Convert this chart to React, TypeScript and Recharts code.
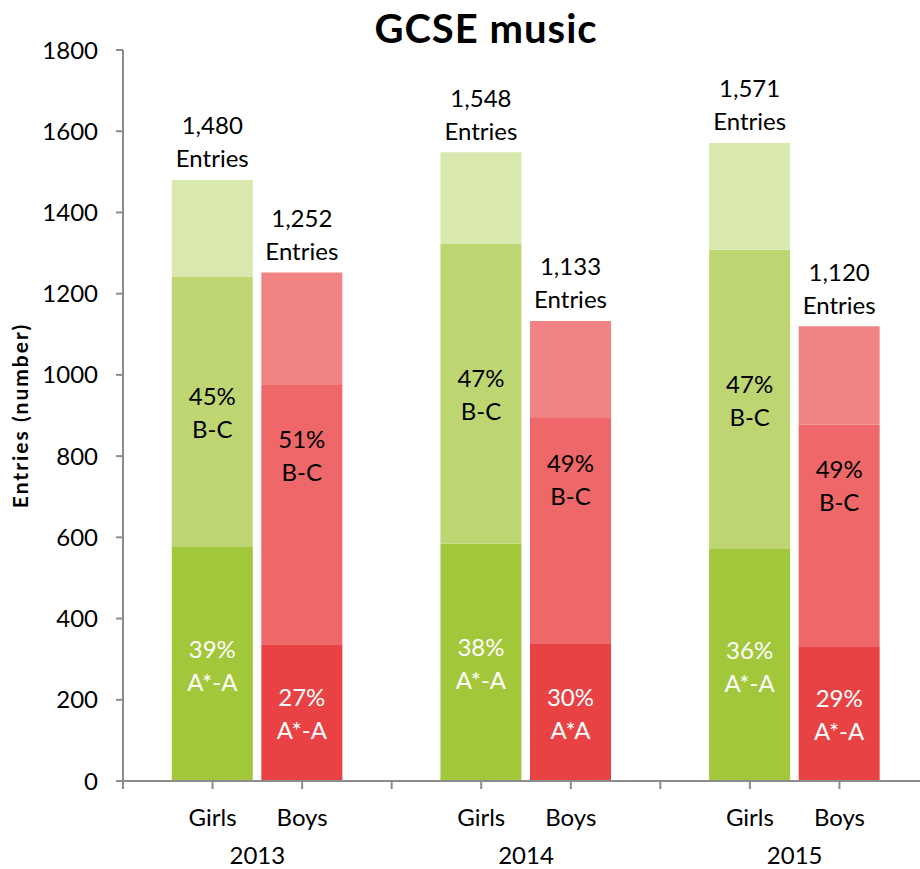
import { BarChart, Bar, XAxis, YAxis, Cell, LabelList } from "recharts";

// one entry per bar: 2013 girls, 2013 boys, 2014 girls, ...
const years = ["2013", "2014", "2015"];
const genders = ["Girls", "Boys"];
const aStarA = [576, 337, 584, 339, 571, 330];
const gradeBC = [666, 638, 739, 555, 737, 548];
const otherGrades = [238, 277, 225, 239, 263, 242];
const totalLabels = ["1,480", "1,252", "1,548", "1,133", "1,571", "1,120"];
const aStarPct = ["39%", "27%", "38%", "30%", "36%", "29%"];
const aStarNames = ["A*-A", "A*-A", "A*-A", "A*A", "A*-A", "A*-A"];
const bcPct = ["45%", "51%", "47%", "49%", "47%", "49%"];
const yTicks = [0, 200, 400, 600, 800, 1000, 1200, 1400, 1600, 1800];

const greens = ["#A3C73B", "#BED672", "#D9E8AF"];
const reds = ["#E84244", "#EE6769", "#F18482"];
const axisGrey = "#8C8C8C";
const FONT = "Lato, 'Open Sans', sans-serif";
const FS = 24;

// x slot: each year takes 3 units, girls at +1, boys at +2
const rows = aStarA.map((a, i) => ({
  x: Math.floor(i / 2) * 3 + 1 + (i % 2),
  aStar: a,
  bc: gradeBC[i],
  rest: otherGrades[i],
}));

const slotTicks = Array.from({ length: 10 }, (_, i) => i);
const yearTicks = years.map((_, i) => i * 3 + 1.5);

const box = (p: any) => p.viewBox ?? p;

const TwoLines = ({ cx, cy, top, bottom, fill }: any) => (
  <g>
    <text x={cx} y={cy - 16} textAnchor="middle" dominantBaseline="central" fill={fill} fontSize={FS}>
      {top}
    </text>
    <text x={cx} y={cy + 17} textAnchor="middle" dominantBaseline="central" fill={fill} fontSize={FS}>
      {bottom}
    </text>
  </g>
);

const AStarLabel = (p: any) => {
  const { x, y, width, height } = box(p);
  return (
    <TwoLines
      cx={x + width / 2}
      cy={y + height / 2}
      top={aStarPct[p.index]}
      bottom={aStarNames[p.index]}
      fill="#fff"
    />
  );
};

const BCLabel = (p: any) => {
  const { x, y, width, height } = box(p);
  // boys labels sit in the upper part of the segment
  const cy = y + height * (p.index % 2 === 0 ? 0.5 : 0.27);
  return <TwoLines cx={x + width / 2} cy={cy} top={bcPct[p.index]} bottom="B-C" fill="#000" />;
};

const TotalLabel = (p: any) => {
  const { x, y, width } = box(p);
  return <TwoLines cx={x + width / 2} cy={y - 39} top={totalLabels[p.index]} bottom="Entries" fill="#000" />;
};

const GenderTick = (p: any) => {
  const v = p.payload.value;
  if (v % 3 === 0) return <g />;
  return (
    <text x={p.x} y={p.y} dy={27} textAnchor="middle" dominantBaseline="central" fill="#000" fontSize={FS}>
      {genders[(v % 3) - 1]}
    </text>
  );
};

const YearTick = (p: any) => {
  const idx = Math.floor(p.payload.value / 3);
  return (
    <text x={p.x} y={p.y} dy={23} textAnchor="middle" dominantBaseline="central" fill="#000" fontSize={FS}>
      {years[idx]}
    </text>
  );
};

const YTitle = (p: any) => {
  const vb = p.viewBox;
  const tx = vb.x + 19;
  const ty = vb.y + vb.height / 2;
  return (
    <text
      x={tx}
      y={ty}
      transform={`rotate(-90, ${tx}, ${ty})`}
      textAnchor="middle"
      dominantBaseline="central"
      fontSize={21}
      fontWeight="bold"
      letterSpacing={2}
      fill="#000"
    >
      Entries (number)
    </text>
  );
};

export default function App() {
  return (
    <div
      style={{
        position: "absolute",
        left: 0,
        top: 0,
        width: 920,
        height: 869,
        overflow: "hidden",
        background: "#fff",
        fontFamily: FONT,
      }}
    >
      <div
        style={{
          position: "absolute",
          left: 0,
          top: 6,
          width: 972,
          textAlign: "center",
          fontSize: 40,
          fontWeight: 700,
          letterSpacing: 1,
          lineHeight: "44px",
        }}
      >
        GCSE music
      </div>
      <BarChart width={929} height={869} data={rows} margin={{ top: 50, right: 0, left: 0, bottom: 0 }}>
        <XAxis
          dataKey="x"
          type="number"
          domain={[0, 9]}
          ticks={slotTicks}
          interval={0}
          allowDataOverflow
          height={50}
          tickSize={8}
          tickMargin={0}
          stroke={axisGrey}
          strokeWidth={2}
          tick={<GenderTick />}
        />
        <XAxis
          xAxisId="year"
          dataKey="x"
          type="number"
          domain={[0, 9]}
          ticks={yearTicks}
          interval={0}
          allowDataOverflow
          height={38}
          axisLine={false}
          tickLine={false}
          tickSize={0}
          tickMargin={0}
          tick={<YearTick />}
        />
        <YAxis
          type="number"
          domain={[0, 1800]}
          ticks={yTicks}
          interval={0}
          width={123}
          tickSize={7}
          tickMargin={18}
          stroke={axisGrey}
          strokeWidth={2}
          tick={{ fill: "#000", fontSize: FS }}
          label={<YTitle />}
        />
        <Bar dataKey="aStar" stackId="s" barSize={81} isAnimationActive={false}>
          {rows.map((_, i) => (
            <Cell key={i} fill={i % 2 === 0 ? greens[0] : reds[0]} />
          ))}
          <LabelList dataKey="aStar" content={<AStarLabel />} />
        </Bar>
        <Bar dataKey="bc" stackId="s" barSize={81} isAnimationActive={false}>
          {rows.map((_, i) => (
            <Cell key={i} fill={i % 2 === 0 ? greens[1] : reds[1]} />
          ))}
          <LabelList dataKey="bc" content={<BCLabel />} />
        </Bar>
        <Bar dataKey="rest" stackId="s" barSize={81} isAnimationActive={false}>
          {rows.map((_, i) => (
            <Cell key={i} fill={i % 2 === 0 ? greens[2] : reds[2]} />
          ))}
          <LabelList dataKey="rest" content={<TotalLabel />} />
        </Bar>
      </BarChart>
    </div>
  );
}
